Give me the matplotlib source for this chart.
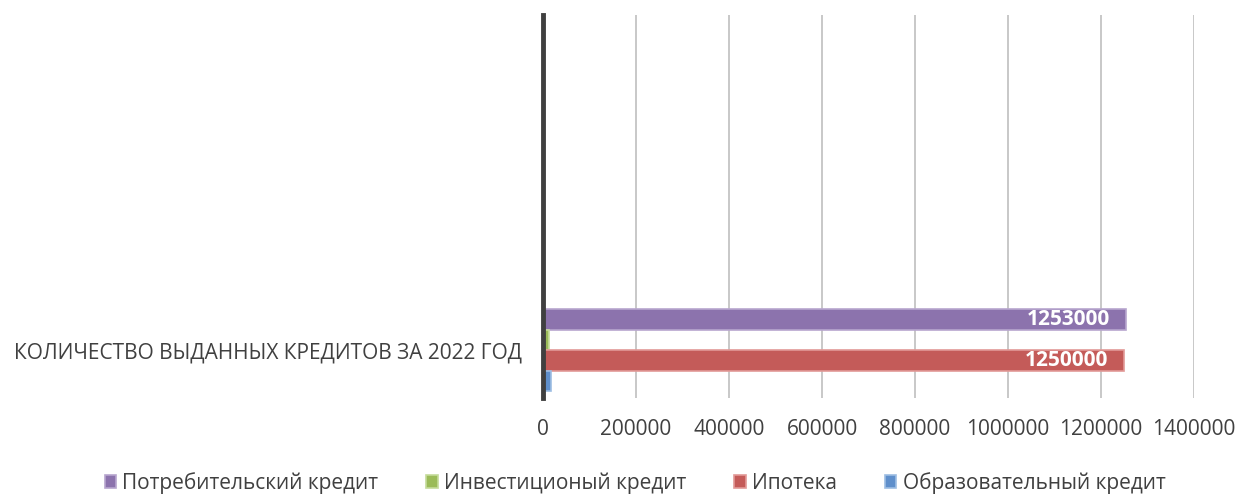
import matplotlib.pyplot as plt
import numpy as np

plt.rcParams['font.family'] = ['Open Sans', 'DejaVu Sans']

# four category slots, only the bottom one holds data
categories = ["КОЛИЧЕСТВО ВЫДАННЫХ КРЕДИТОВ ЗА 2022 ГОД", "", "", ""]
series_names = ["Потребительский кредит", "Инвестиционый кредит", "Ипотека", "Образовательный кредит"]
series_values = [
    [1253000, np.nan, np.nan, np.nan],
    [12000, np.nan, np.nan, np.nan],
    [1250000, np.nan, np.nan, np.nan],
    [17000, np.nan, np.nan, np.nan],
]
labelled = [True, False, True, False]
colors = ["#8C73AD", "#9BBB59", "#C45B59", "#5F8FCB"]
edge_colors = ["#B7A6CE", "#C5DB9B", "#E29997", "#9DBDE3"]
x_ticks = [0, 200000, 400000, 600000, 800000, 1000000, 1200000, 1400000]
text_color = "#404040"

fig = plt.figure(figsize=(12.39, 4.94), dpi=100)
ax = fig.add_axes([543 / 1239, 1 - 398 / 494, (1194 - 543) / 1239, 383 / 494])

y = np.arange(len(categories))
h = 0.214
offsets = [1.5 * h, 0.5 * h, -0.5 * h, -1.5 * h]

for name, vals, off, c, ec, lab in zip(series_names, series_values, offsets, colors, edge_colors, labelled):
    ax.barh(y + off, vals, height=h, color=c, edgecolor=ec, linewidth=1.2, label=name, zorder=3)
    if lab:
        # value written inside the bar end
        for yy, v in zip(y + off, vals):
            if np.isnan(v):
                continue
            ax.annotate(f"{v:.0f}", xy=(v, yy), xytext=(-11.5, 0), textcoords="offset points",
                        ha="right", va="center", color="white", fontsize=15,
                        fontweight="bold", zorder=4)

ax.set_xlim(0, 1400000)
ax.set_ylim(-0.5, 3.5)
ax.set_xticks(x_ticks)
ax.set_xticklabels([str(t) for t in x_ticks], fontsize=15, color=text_color)
ax.set_yticks(y)
ax.set_yticklabels(categories, fontsize=15, color=text_color)
ax.tick_params(axis="x", length=0, pad=15)
ax.tick_params(axis="y", length=0, pad=15)
ax.xaxis.grid(True, color="#BFBFBF", linewidth=1.2, zorder=0)

for side in ["top", "right", "bottom"]:
    ax.spines[side].set_visible(False)
ax.spines["left"].set_color(text_color)
ax.spines["left"].set_linewidth(3.5)
ax.spines["left"].set_zorder(5)

handles, labels = ax.get_legend_handles_labels()
fig.legend(handles, labels, loc="center", bbox_to_anchor=(635 / 1239, 1 - 483 / 494), ncol=4,
           frameon=False, fontsize=15, handlelength=0.55, handleheight=0.55,
           handletextpad=0.3, columnspacing=2.3, labelcolor=text_color)

fig.savefig("out.png", dpi=100)
